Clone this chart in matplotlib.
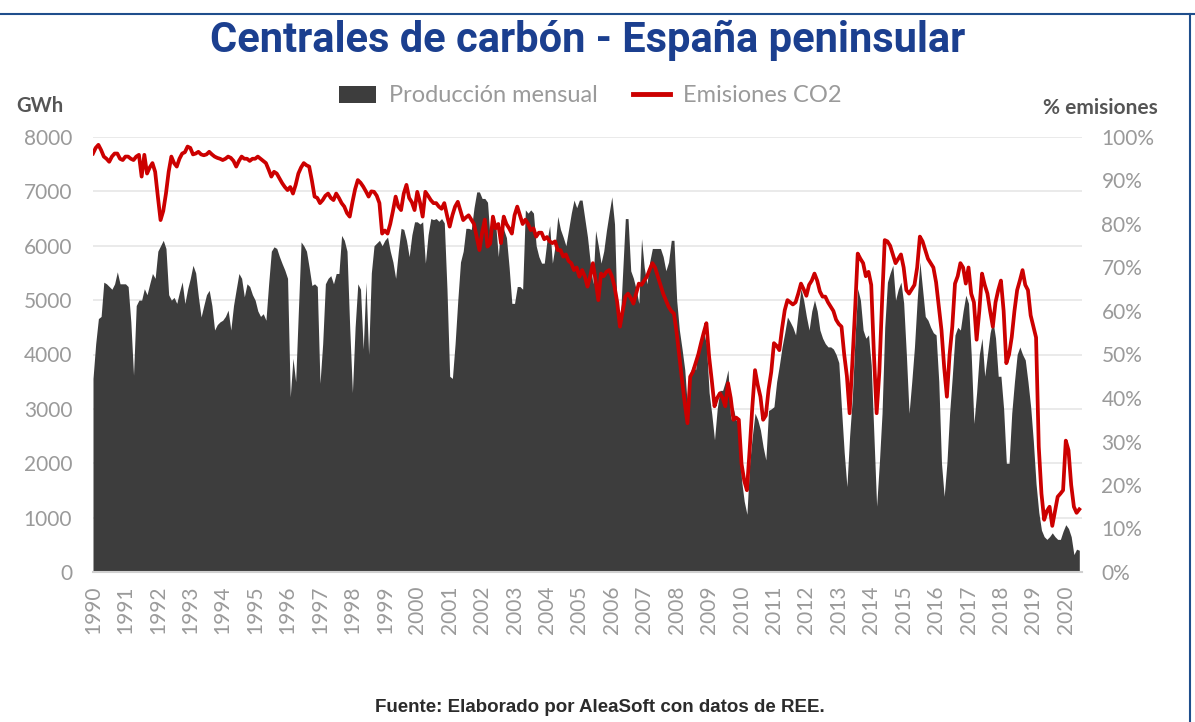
import numpy as np
import matplotlib
matplotlib.use("Agg")
import matplotlib.pyplot as plt
from matplotlib.patches import Patch
from matplotlib.lines import Line2D
from matplotlib.transforms import Bbox

# monthly production of coal plants (GWh), Jan 1990 - Jun 2020
prod = {
    1990: [3560, 4200, 4660, 4700, 5330, 5300, 5250, 5200, 5300, 5520, 5300, 5300],
    1991: [5300, 5250, 4600, 3620, 4900, 5000, 5000, 5210, 5100, 5300, 5490, 5400],
    1992: [5900, 6000, 6100, 5950, 5100, 5000, 5050, 4940, 5150, 5336, 4938, 5200],
    1993: [5400, 5640, 5500, 5060, 4690, 4900, 5100, 5180, 4900, 4450, 4550, 4600],
    1994: [4630, 4700, 4816, 4450, 4900, 5200, 5490, 5400, 5060, 5300, 5250, 5100],
    1995: [5000, 4800, 4700, 4750, 4630, 5300, 5900, 5980, 5950, 5800, 5670, 5550],
    1996: [5400, 3220, 3930, 3500, 4800, 6070, 6000, 5900, 5600, 5270, 5300, 5250],
    1997: [3470, 4200, 5300, 5400, 5450, 5300, 5490, 5490, 6190, 6100, 5900, 4500],
    1998: [3300, 4500, 5300, 5200, 4100, 5330, 4000, 5500, 6000, 6050, 6100, 6000],
    1999: [6100, 6160, 5900, 5700, 5400, 5900, 6320, 6300, 6100, 5800, 6200, 6440],
    2000: [6440, 6400, 6440, 5680, 6200, 6500, 6480, 6500, 6450, 6500, 6420, 5200],
    2001: [3600, 3560, 4200, 5000, 5700, 5900, 6320, 6320, 6300, 6700, 6990, 6990],
    2002: [6870, 6870, 6800, 6100, 6500, 6400, 5800, 6500, 6300, 6150, 5600, 4940],
    2003: [4940, 5250, 5250, 5200, 6660, 6600, 6660, 6600, 6000, 5800, 5680, 5680],
    2004: [6100, 6370, 5680, 6000, 6540, 6300, 6160, 6000, 6300, 6600, 6840, 6700],
    2005: [6840, 6840, 6500, 6160, 5700, 5300, 6280, 6000, 5680, 5900, 6280, 6600],
    2006: [6900, 6400, 4700, 4500, 5500, 6500, 6500, 5540, 5400, 5200, 4940, 6130],
    2007: [5600, 5300, 5700, 5950, 5950, 5950, 5950, 5800, 5540, 5700, 6100, 6100],
    2008: [5000, 4450, 4100, 3720, 3020, 3670, 3800, 3720, 4140, 4300, 4400, 4200],
    2009: [3300, 2900, 2430, 3000, 3340, 3340, 3500, 3720, 2800, 3000, 2790, 2790],
    2010: [1690, 1300, 1060, 2000, 2500, 2920, 2800, 2610, 2300, 2060, 2970, 3000],
    2011: [3040, 3500, 3800, 4140, 4400, 4690, 4600, 4500, 4360, 4800, 5210, 5000],
    2012: [4700, 4450, 4800, 5000, 4800, 4450, 4300, 4200, 4140, 4140, 4100, 4000],
    2013: [3850, 3000, 2200, 1570, 2500, 3200, 4300, 5210, 5000, 4450, 4300, 4360],
    2014: [3800, 2500, 1210, 2000, 2920, 4500, 5330, 5500, 5640, 5000, 5200, 5330],
    2015: [4950, 4000, 2920, 3500, 4140, 5000, 5700, 5200, 4700, 4630, 4500, 4400],
    2016: [4360, 3500, 2000, 1390, 2000, 2920, 3600, 4360, 4500, 4450, 4800, 5090],
    2017: [4940, 4000, 2730, 3300, 4000, 4300, 3600, 4000, 4400, 4630, 4300, 3600],
    2018: [3600, 3000, 2000, 2000, 2920, 3500, 4000, 4140, 4000, 3900, 3500, 3040],
    2019: [2400, 1620, 1100, 770, 650, 600, 650, 720, 650, 600, 600, 750],
    2020: [870, 800, 650, 320, 420, 400],
}

# share of CO2 emissions (%)
emis = {
    1990: [96.2, 97.5, 98.2, 97, 95.5, 95, 94.3, 95.5, 96.2, 96.2, 95, 94.7],
    1991: [95.5, 95.5, 95, 94.7, 95.5, 95.9, 90.9, 95.9, 91.6, 93, 94, 92],
    1992: [86.3, 80.9, 83, 87, 92, 95.5, 94, 93.2, 95, 96.2, 96.5, 97.8],
    1993: [97.5, 96, 96.2, 96.6, 96, 95.8, 96, 96.6, 96, 95.5, 95.2, 95],
    1994: [94.7, 95, 95.5, 95.2, 94.5, 93.2, 94.5, 95.5, 95, 95, 94.5, 95],
    1995: [95, 95.5, 95, 94.5, 94, 92.5, 90.9, 92, 91.6, 90.5, 89.4, 88.5],
    1996: [87.8, 88.5, 87, 89, 91.6, 93, 94, 93.5, 93.2, 90, 86.3, 86],
    1997: [84.8, 85.5, 86.5, 87, 86, 85.5, 87, 86, 84.8, 84, 82.5, 81.7],
    1998: [85, 88, 90.1, 89.5, 88.6, 87.5, 86.3, 87.5, 87.4, 86.5, 84.8, 77.8],
    1999: [78.5, 77.8, 80, 83, 86.3, 84, 83.2, 87, 89, 86, 85, 83.2],
    2000: [87.4, 85, 81.7, 87.4, 86.5, 85.5, 84.8, 84.8, 84, 83.5, 84.8, 82],
    2001: [79.4, 82, 84, 85.1, 83, 80.9, 81.5, 82, 81, 80, 77, 74],
    2002: [78, 81, 74.8, 75.5, 81.7, 79, 80, 75.6, 81.7, 80, 79, 77.8],
    2003: [82, 84, 82, 80, 81, 80, 78.6, 79, 77.1, 78, 78, 76.5],
    2004: [77, 76, 75.6, 76, 74, 74, 72.5, 73, 71.5, 71, 69.4, 70],
    2005: [67.9, 69.4, 68, 65.6, 68, 71, 67, 62.5, 68.6, 68, 69, 69.4],
    2006: [68, 65.6, 62, 56.4, 60, 63.3, 64, 63, 61.7, 64, 66.3, 66],
    2007: [67, 67.9, 69.5, 71, 70, 68, 66, 64, 62.5, 61, 60, 59.4],
    2008: [55, 49.5, 44, 38.8, 34.2, 44.9, 46, 48, 50, 52.6, 55, 57.2],
    2009: [49.5, 44, 38.1, 40, 41.1, 40, 38.1, 43.4, 40, 35, 35.5, 35],
    2010: [24.9, 21, 18.8, 28, 38, 46.4, 43, 40.3, 35, 36, 41.9, 46],
    2011: [52.6, 52, 51, 56, 60.2, 62.5, 62, 61.5, 62, 64, 66.3, 65],
    2012: [63.5, 66, 67, 68.6, 67, 64.5, 63.3, 63.3, 62, 61, 60, 58],
    2013: [57, 56.4, 50, 45, 36.5, 48, 60, 73.2, 72, 71, 68, 69],
    2014: [66, 50, 36.5, 46, 62, 76.3, 76, 75, 73, 71, 72, 73],
    2015: [70, 64.8, 64, 65, 66, 70, 77.1, 76, 74, 72, 71, 70],
    2016: [66.6, 61, 55.6, 47, 40.3, 50, 56.4, 66.3, 68, 71, 70, 66.3],
    2017: [70, 64, 62, 53.4, 60, 68.6, 66, 64, 60, 56.4, 62, 64.8],
    2018: [67, 60, 48, 50, 54, 60, 64.8, 67, 69.4, 66, 64.8, 59],
    2019: [56.4, 53.9, 28.8, 18, 12, 14, 15, 10.6, 14, 17.3, 18, 18.8],
    2020: [30.2, 28, 20, 15, 13.6, 14.4],
}

years = list(range(1990, 2021))
production = np.array([v for y in years for v in prod[y]], dtype=float)
emissions = np.array([v for y in years for v in emis[y]], dtype=float)
months = np.arange(len(production))

GRAY = "#9a9a9a"
plt.rcParams["font.family"] = ["Lato", "DejaVu Sans"]

fig = plt.figure(figsize=(11.95, 7.22), dpi=100)
ax = fig.add_axes([93 / 1195, 150 / 722, 989 / 1195, 435 / 722])

ax.fill_between(months, production, color="#3d3d3d", lw=0, zorder=2)
ax.set_xlim(0, len(production))
ax.set_ylim(0, 8000)
ax.set_yticks(range(0, 8001, 1000))
ax.grid(axis="y", color="#e6e6e6", lw=1.2, zorder=0)
ax.set_xticks(range(0, len(production), 12))
ax.set_xticklabels([str(y) for y in years], rotation=90)
ax.tick_params(axis="both", length=0, labelsize=15, colors=GRAY)
ax.tick_params(axis="y", pad=15)
ax.tick_params(axis="x", pad=10)
for s in ["top", "right", "left"]:
    ax.spines[s].set_visible(False)
ax.spines["bottom"].set_color("#d0d0d0")
ax.spines["bottom"].set_linewidth(1.5)

ax2 = ax.twinx()
ax2.plot(months, emissions, color="#cc0000", lw=2.7, zorder=3)
ax2.set_ylim(0, 100)
ax2.set_yticks(range(0, 101, 10))
ax2.set_yticklabels([f"{v}%" for v in range(0, 101, 10)])
ax2.tick_params(axis="y", length=0, labelsize=15, colors=GRAY, pad=14)
for s in ax2.spines.values():
    s.set_visible(False)

fig.text(40 / 1195, 1 - 106 / 722, "GWh", fontsize=14.5, fontweight="bold",
         color="#555555", ha="center", va="center")
t = fig.text(1043 / 1195, 1 - 108 / 722, "% emisiones", fontsize=15,
             fontweight="bold", color="#555555", ha="left", va="center")
t.set_clip_box(Bbox([[0, 0], [1160, 722]]))
t.set_clip_on(True)

handles = [Patch(facecolor="#3d3d3d", edgecolor="none"),
           Line2D([0], [0], color="#cc0000", lw=3.5)]
fig.legend(handles, ["Producción mensual", "Emisiones CO2"], ncol=2,
           loc="center", bbox_to_anchor=(590 / 1195, 1 - 96 / 722),
           frameon=False, fontsize=17, labelcolor=GRAY, handlelength=1.57,
           handleheight=0.76, handletextpad=0.55, columnspacing=1.5)

fig.text(588 / 1195, 1 - 40 / 722, "Centrales de carbón - España peninsular",
         fontsize=30, fontweight="bold", color="#1b3f8f", ha="center",
         va="center", family=["Roboto", "DejaVu Sans"])

fig.text(600 / 1195, 1 - 708 / 722,
         "Fuente: Elaborado por AleaSoft con datos de REE.", fontsize=13.5,
         fontweight="bold", color="#2b2b2b", ha="center", va="center",
         family=["Liberation Sans", "DejaVu Sans"])

# frame lines
fig.add_artist(Line2D([0, 1], [1 - 14 / 722] * 2, color="#1f4e8c", lw=1.5))
fig.add_artist(Line2D([1190 / 1195] * 2, [0, 1 - 14 / 722], color="#1f4e8c",
                      lw=1.5))

fig.savefig("out.png", dpi=100)
